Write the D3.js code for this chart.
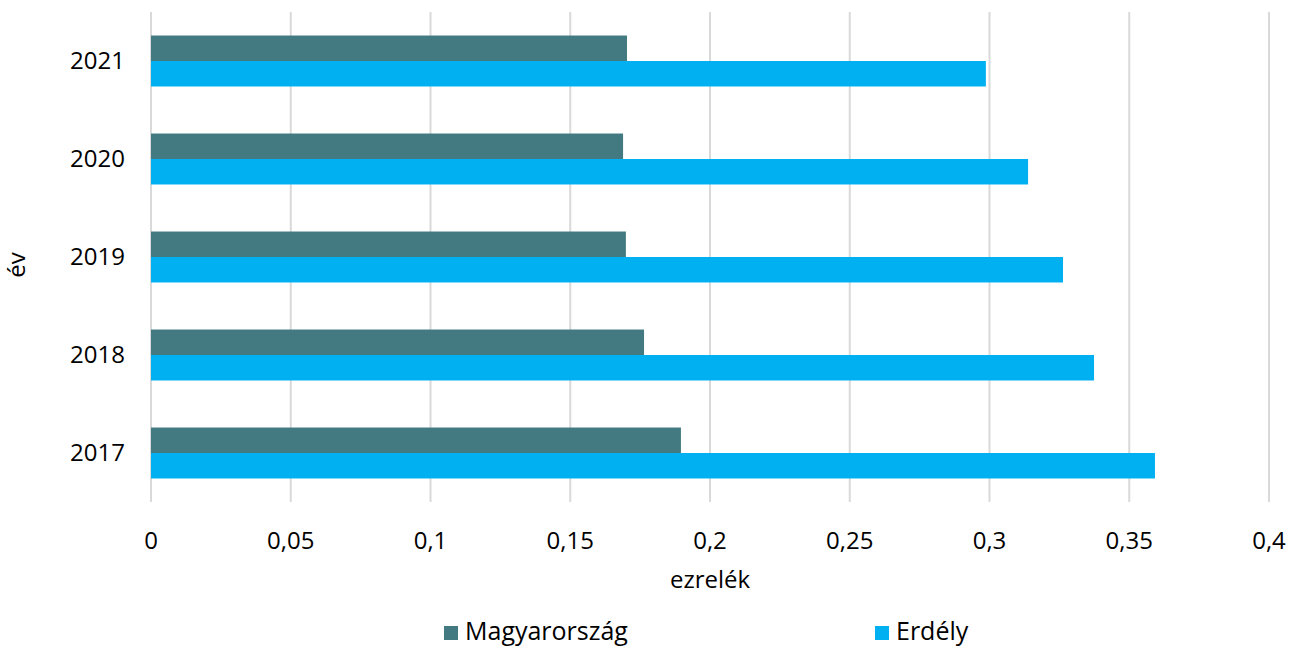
<!DOCTYPE html>
<html>
<head>
<meta charset="utf-8">
<script src="https://cdn.jsdelivr.net/npm/d3@7"></script>
<style>
  body { margin: 0; background: #fff; }
  text { font-family: "Open Sans", "Noto Sans", sans-serif; fill: #000; }
</style>
</head>
<body>
<div id="chart"></div>
<script>
// adatok
var years = ["2021", "2020", "2019", "2018", "2017"];
var seriesNames = ["Magyarország", "Erdély"];
var magyar = [0.1703, 0.1689, 0.1699, 0.1764, 0.1896];
var erdely = [0.2987, 0.3138, 0.3263, 0.3374, 0.3592];
var xTicks = [0, 0.05, 0.1, 0.15, 0.2, 0.25, 0.3, 0.35, 0.4];
var colors = ["#437a82", "#00b0f0"];

var W = 1301, H = 648;
var pLeft = 151, pRight = 1269, pTop = 12, pBottom = 502;

var svg = d3.select("#chart").append("svg").attr("width", W).attr("height", H);

var x = d3.scaleLinear().domain([0, 0.4]).range([pLeft, pRight]);
var y = d3.scaleBand().domain(years).range([pTop, pBottom]).paddingInner(0.48).paddingOuter(0.24);
var ySub = d3.scaleBand().domain(seriesNames).range([0, y.bandwidth()]);

// racsvonalak
svg.append("g").selectAll("line").data(xTicks).enter().append("line")
    .attr("x1", function (d) { return x(d); }).attr("x2", function (d) { return x(d); })
    .attr("y1", pTop).attr("y2", pBottom)
    .style("stroke", "#d9d9d9").style("stroke-width", 2);

var rows = years.map(function (yr, i) { return { year: yr, vals: [magyar[i], erdely[i]] }; });

var g = svg.append("g").selectAll("g").data(rows).enter().append("g")
    .attr("transform", function (d) { return "translate(0," + y(d.year) + ")"; });

g.selectAll("rect").data(function (d) {
        return d.vals.map(function (v, j) { return { name: seriesNames[j], v: v, c: colors[j] }; });
    }).enter().append("rect")
    .attr("x", x(0))
    .attr("y", function (d) { return ySub(d.name); })
    .attr("width", function (d) { return x(d.v) - x(0); })
    .attr("height", ySub.bandwidth())
    .style("fill", function (d) { return d.c; });

// y tengely feliratok
svg.append("g").selectAll("text").data(years).enter().append("text")
    .attr("x", 125).attr("y", function (d) { return y(d) + y.bandwidth() / 2; })
    .attr("dy", ".35em").attr("text-anchor", "end")
    .style("font-size", "24px").text(function (d) { return d; });

// x tengely feliratok
svg.append("g").selectAll("text").data(xTicks).enter().append("text")
    .attr("x", function (d) { return x(d); }).attr("y", 549)
    .attr("text-anchor", "middle").style("font-size", "24px")
    .text(function (d) { return String(d).replace(".", ","); });

svg.append("text").attr("x", (pLeft + pRight) / 2).attr("y", 588)
    .attr("text-anchor", "middle").style("font-size", "24px").text("ezrelék");

svg.append("text").attr("transform", "translate(25,265) rotate(-90)")
    .attr("text-anchor", "middle").style("font-size", "24px").text("év");

// jelmagyarazat
var legX = [444, 875];
var leg = svg.append("g").selectAll("g").data(seriesNames).enter().append("g")
    .attr("transform", function (d, i) { return "translate(" + legX[i] + ",626)"; });
leg.append("rect").attr("width", 14).attr("height", 14)
    .style("fill", function (d, i) { return colors[i]; });
leg.append("text").attr("x", 21).attr("y", 14).style("font-size", "25px")
    .text(function (d) { return d; });
</script>
</body>
</html>
